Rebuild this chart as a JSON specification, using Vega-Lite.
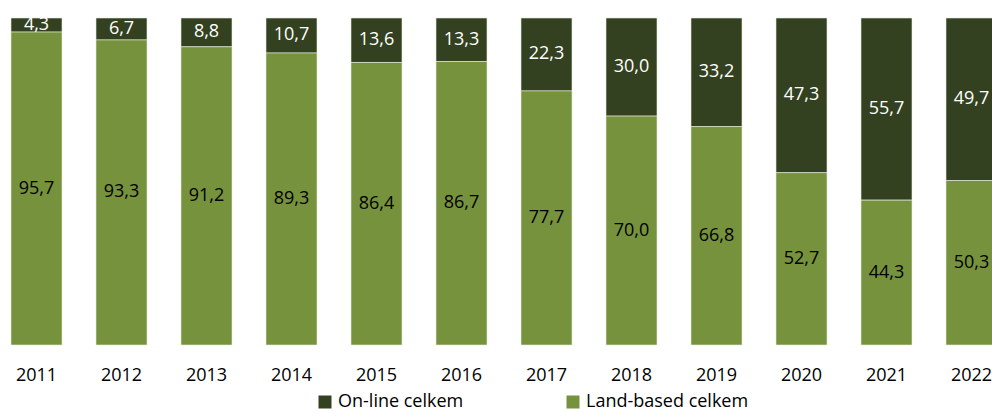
{
  "$schema": "https://vega.github.io/schema/vega-lite/v6.json",
  "width": 992,
  "height": 327,
  "autosize": {"type": "none"},
  "padding": {"top": 18, "left": 0, "right": 0, "bottom": 67},
  "background": "white",
  "config": {
    "view": {"stroke": null},
    "font": "Open Sans",
    "locale": {"number": {"decimal": ",", "thousands": " ", "grouping": [3], "currency": ["", ""]}}
  },
  "data": {
    "values": [
      {"year": "2011", "type": "On-line celkem", "value": 4.3},
      {"year": "2011", "type": "Land-based celkem", "value": 95.7},
      {"year": "2012", "type": "On-line celkem", "value": 6.7},
      {"year": "2012", "type": "Land-based celkem", "value": 93.3},
      {"year": "2013", "type": "On-line celkem", "value": 8.8},
      {"year": "2013", "type": "Land-based celkem", "value": 91.2},
      {"year": "2014", "type": "On-line celkem", "value": 10.7},
      {"year": "2014", "type": "Land-based celkem", "value": 89.3},
      {"year": "2015", "type": "On-line celkem", "value": 13.6},
      {"year": "2015", "type": "Land-based celkem", "value": 86.4},
      {"year": "2016", "type": "On-line celkem", "value": 13.3},
      {"year": "2016", "type": "Land-based celkem", "value": 86.7},
      {"year": "2017", "type": "On-line celkem", "value": 22.3},
      {"year": "2017", "type": "Land-based celkem", "value": 77.7},
      {"year": "2018", "type": "On-line celkem", "value": 30.0},
      {"year": "2018", "type": "Land-based celkem", "value": 70.0},
      {"year": "2019", "type": "On-line celkem", "value": 33.2},
      {"year": "2019", "type": "Land-based celkem", "value": 66.8},
      {"year": "2020", "type": "On-line celkem", "value": 47.3},
      {"year": "2020", "type": "Land-based celkem", "value": 52.7},
      {"year": "2021", "type": "On-line celkem", "value": 55.7},
      {"year": "2021", "type": "Land-based celkem", "value": 44.3},
      {"year": "2022", "type": "On-line celkem", "value": 49.7},
      {"year": "2022", "type": "Land-based celkem", "value": 50.3}
    ]
  },
  "transform": [
    {"stack": "value", "groupby": ["year"], "sort": [{"field": "type", "order": "ascending"}], "as": ["y0", "y1"]},
    {"calculate": "(datum.y0 + datum.y1) / 2", "as": "ymid"}
  ],
  "encoding": {
    "x": {
      "field": "year", "type": "ordinal",
      "scale": {"range": [-6, 1014], "paddingInner": 0.4, "paddingOuter": 0.2},
      "axis": {"title": null, "domain": false, "ticks": false, "labelAngle": 0, "labelFontSize": 18, "labelColor": "#000000", "labelPadding": 21, "labelFont": "Open Sans"}
    }
  },
  "layer": [
    {
      "mark": {"type": "bar", "stroke": "#e8ece0", "strokeWidth": 0.6},
      "encoding": {
        "y": {"field": "y0", "type": "quantitative", "scale": {"domain": [0, 100], "nice": false, "zero": true}, "axis": null},
        "y2": {"field": "y1"},
        "color": {
          "field": "type", "type": "nominal",
          "scale": {"domain": ["On-line celkem", "Land-based celkem"], "range": ["#334120", "#77923d"]},
          "legend": {
            "title": null, "orient": "none", "legendX": 316, "legendY": 375, "direction": "horizontal",
            "symbolType": "square", "symbolSize": 169, "symbolStrokeWidth": 0,
            "labelFontSize": 18, "labelColor": "#000000", "labelOffset": 4, "columnPadding": 100, "labelLimit": 400, "labelFont": "Open Sans"
          }
        }
      }
    },
    {
      "mark": {"type": "text", "fontSize": 18, "font": "Open Sans", "baseline": "middle"},
      "encoding": {
        "y": {"field": "ymid", "type": "quantitative"},
        "text": {"field": "value", "type": "quantitative", "format": ".1f"},
        "color": {"condition": {"test": "datum.type === 'On-line celkem'", "value": "#ffffff"}, "value": "#000000"}
      }
    }
  ]
}
